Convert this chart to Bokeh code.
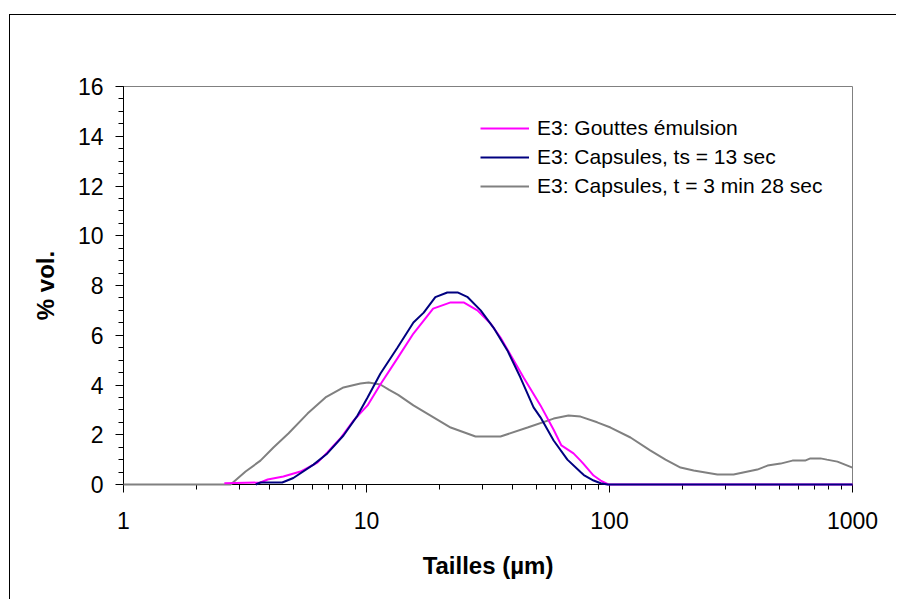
from bokeh.plotting import figure
from bokeh.models import FixedTicker, Legend, LegendItem, Range1d
from bokeh.embed import file_html
from bokeh.resources import INLINE

# ---- data ----
gray_x = [1, 2.76, 3.18, 3.66, 4.14, 4.77, 5.72, 6.78, 8.04, 9.44, 10.2, 11.4, 12.4, 13.5,
          15.6, 22.2, 28.1, 35.6, 46, 58.9, 67.8, 76, 89, 101, 122, 147, 170, 196, 222,
          278, 324, 406, 447, 506, 566, 638, 671, 738, 784, 867, 1000]
gray_y = [0, 0, 0.52, 0.96, 1.49, 2.05, 2.85, 3.5, 3.9, 4.06, 4.1, 4.02, 3.8, 3.6,
          3.18, 2.29, 1.93, 1.93, 2.29, 2.65, 2.77, 2.73, 2.5, 2.29, 1.89, 1.37, 1.0, 0.68, 0.56,
          0.4, 0.4, 0.6, 0.76, 0.84, 0.96, 0.96, 1.05, 1.05, 1.0, 0.92, 0.68]

mag_x = [2.6, 3.66, 3.92, 4.55, 5.35, 6.28, 6.9, 7.8, 8.84, 10.1, 11.4, 13.4, 15.6, 18.8,
         22.2, 25.1, 28.6, 32.4, 35.6, 44.3, 52, 58.9, 63.4, 71.1, 76, 78, 86, 92, 99, 1000]
mag_y = [0.05, 0.08, 0.2, 0.32, 0.52, 0.88, 1.29, 1.85, 2.57, 3.18, 4.02, 5.07, 6.07, 7.07,
         7.32, 7.32, 7.0, 6.47, 5.91, 4.3, 3.18, 2.2, 1.57, 1.25, 0.96, 0.84, 0.36, 0.16, 0, 0]

navy_x = [3.5, 3.66, 4.5, 5.0, 6.05, 6.9, 8.04, 9.18, 10.1, 11.4, 13.4, 15.6, 17.2, 19.2,
          21.5, 23.7, 26.1, 29.5, 33.3, 38, 43, 48.7, 52, 58.9, 67.1, 76, 78.4, 86, 92, 98, 1000]
navy_y = [0, 0.08, 0.08, 0.26, 0.8, 1.25, 1.97, 2.77, 3.5, 4.45, 5.5, 6.51, 6.91, 7.53,
          7.72, 7.72, 7.53, 7.0, 6.31, 5.39, 4.3, 3.1, 2.7, 1.77, 1.0, 0.5, 0.38, 0.16, 0.05, 0, 0]

labels = ["E3: Gouttes émulsion", "E3: Capsules, ts = 13 sec", "E3: Capsules, t = 3 min 28 sec"]
x_major = [1, 10, 100, 1000]
x_minor = [m * d for d in (1, 10, 100) for m in range(2, 10)]
y_major = list(range(0, 17, 2))
y_minor = [i * 0.5 for i in range(0, 33)]

FONT = "Liberation Sans"

p = figure(x_axis_type="log", x_range=Range1d(1, 1000), y_range=Range1d(0, 16),
           frame_width=729, frame_height=398,
           min_border_left=113, min_border_top=71, min_border_right=44, min_border_bottom=115,
           output_backend="svg", toolbar_location=None)
p.margin = (14, 0, 0, 9)
p.styles = {"border-top": "1px solid black", "border-left": "1px solid black"}

p.grid.visible = False
p.outline_line_color = "#808080"
p.outline_line_width = 1
p.background_fill_color = "white"
p.border_fill_color = "white"

r_gray = p.line(gray_x, gray_y, line_color="#808080", line_width=2, level="overlay")
r_mag = p.line(mag_x, mag_y, line_color="#FF00FF", line_width=2, level="overlay")
r_navy = p.line(navy_x, navy_y, line_color="#000080", line_width=2, level="overlay")

for ax in (p.xaxis[0], p.yaxis[0]):
    ax.axis_line_color = "black"
    ax.axis_line_width = 1
    ax.major_tick_line_color = "black"
    ax.minor_tick_line_color = "black"
    ax.major_tick_in = 0
    ax.minor_tick_in = 0
    ax.major_tick_out = 8
    ax.minor_tick_out = 5
    ax.major_label_text_font = FONT
    ax.major_label_text_font_size = "23px"
    ax.major_label_text_color = "black"
    ax.axis_label_text_font = FONT
    ax.axis_label_text_font_size = "24px"
    ax.axis_label_text_font_style = "bold"
    ax.axis_label_text_color = "black"

p.xaxis.ticker = FixedTicker(ticks=x_major, minor_ticks=x_minor)
p.yaxis.ticker = FixedTicker(ticks=y_major, minor_ticks=y_minor)
p.xaxis.major_label_overrides = {1: "1", 10: "10", 100: "100", 1000: "1000"}
p.xaxis.major_label_standoff = 19
p.yaxis.major_label_standoff = 12
p.xaxis.axis_label = "Tailles (µm)"
p.yaxis.axis_label = "% vol."
p.xaxis.axis_label_standoff = 20
p.yaxis.axis_label_standoff = 16

legend = Legend(items=[LegendItem(label=labels[0], renderers=[r_mag]),
                       LegendItem(label=labels[1], renderers=[r_navy]),
                       LegendItem(label=labels[2], renderers=[r_gray])],
                location=(357, 286), orientation="vertical",
                glyph_width=49, glyph_height=20, label_height=20, spacing=5,
                label_standoff=8, padding=0, margin=0,
                border_line_color=None, background_fill_alpha=0,
                label_text_font=FONT, label_text_font_size="21px", label_text_color="black")
p.add_layout(legend, "center")

open("out.html", "w").write(file_html(p, INLINE))
